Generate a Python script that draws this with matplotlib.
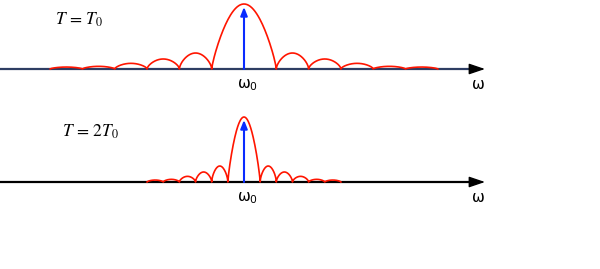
import numpy as np
import matplotlib
matplotlib.use('Agg')
import matplotlib.pyplot as plt

plt.rcParams['mathtext.fontset'] = 'stix'

# side lobe heights (relative to main lobe), going outward from the centre
side_lobes = [0.246, 0.154, 0.087, 0.041, 0.03]
main_peak = 1.0
# lobe width in units of 2*pi/T0 for each case
lobe_width = {'T0': 1.0, '2T0': 0.5}
labels = {'T0': r'$T\,=\,T_0$', '2T0': r'$T\,=\,2T_0$'}
axis_colors = {'T0': '#2e3d63', '2T0': 'black'}

W, H = 600, 269
px_per_unit = 32.3
x0_px = 244
xlim = (-x0_px / px_per_unit, (W - x0_px) / px_per_unit)
tip = (485 - x0_px) / px_per_unit


def spectrum(width):
    xs, ys = [], []
    edges = [(-width, width, main_peak, 0.8)]
    for k, h in enumerate(side_lobes):
        a = width * (k + 1)
        b = width * (k + 2)
        edges.append((a, b, h, 0.6))
        edges.append((-b, -a, h, 0.6))
    edges.sort()
    for a, b, h, p in edges:
        t = np.linspace(0, 1, 80)
        xs.append(a + (b - a) * t)
        ys.append(h * np.sin(np.pi * t) ** p)
    return np.concatenate(xs), np.concatenate(ys)


fig = plt.figure(figsize=(W / 100, H / 100), dpi=100)

# (top px, bottom px, axis px) for each panel
panels = [('T0', 0, 92, 69, 65), ('2T0', 100, 232, 182, 65)]
for key, top, bot, base, amp in panels:
    ax = fig.add_axes([0, 1 - bot / H, 1, (bot - top) / H])
    ax.set_xlim(xlim)
    ax.set_ylim(-(bot - base) / amp, (base - top) / amp)
    ax.axis('off')

    ax.plot([xlim[0], tip - 0.3], [0, 0], color=axis_colors[key], lw=1.6,
            solid_capstyle='butt', zorder=1)
    ax.annotate('', xy=(tip, 0), xytext=(tip - 0.38, 0),
                arrowprops=dict(arrowstyle='-|>,head_length=0.65,head_width=0.22',
                                mutation_scale=15, color='black', lw=1,
                                shrinkA=0, shrinkB=0), zorder=3)

    x, y = spectrum(lobe_width[key])
    ax.plot(x, y, color='#ff1500', lw=1.2, zorder=2)

    ax.annotate('', xy=(0, 0.955), xytext=(0, 0),
                arrowprops=dict(arrowstyle='-|>,head_length=0.5,head_width=0.2',
                                mutation_scale=10, color='#0a2bff', lw=1.5,
                                shrinkA=0, shrinkB=0), zorder=4)

    fig.text((55 if key == 'T0' else 62) / W, 1 - (top + 25 if key == 'T0' else 137) / H,
             labels[key], fontsize=12.5, va='baseline', ha='left')
    fig.text(237 / W, 1 - (base + 19) / H, r'$\mathrm{\omega}_0$', fontsize=11,
             va='baseline', ha='left', math_fontfamily='dejavusans')
    fig.text(472 / W, 1 - (base + 20) / H, 'ω', fontsize=11, va='baseline',
             ha='left', family='DejaVu Sans')

fig.savefig('out.png', dpi=100)
